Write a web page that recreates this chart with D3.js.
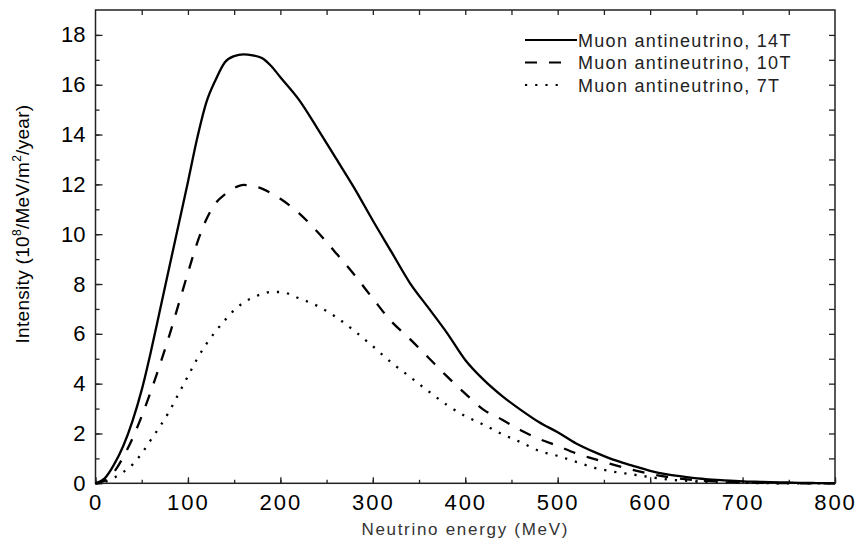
<!DOCTYPE html>
<html>
<head>
<meta charset="utf-8">
<script src="https://cdn.jsdelivr.net/npm/d3@7"></script>
<style>
  html, body { margin: 0; padding: 0; background: #fff; }
  svg { display: block; font-family: "Liberation Sans", Arial, sans-serif; }
</style>
</head>
<body>
<svg id="chart" width="858" height="542"></svg>
<script>
// ---- data ----
const energy = [0,10,20,30,40,50,60,70,80,90,100,110,120,130,140,150,160,170,180,190,200,
  220,240,260,280,300,320,340,360,380,400,420,440,460,480,500,520,540,560,580,600,
  620,640,660,680,700,720,740,760,780,800];
const intensity14T = [0,0.2,0.75,1.5,2.5,3.75,5.3,7.0,8.7,10.4,12.1,13.85,15.3,16.2,16.9,17.15,17.22,17.18,17.07,16.75,16.3,
  15.4,14.25,13.05,11.85,10.55,9.3,8.05,7.05,6.05,4.95,4.15,3.5,2.95,2.45,2.05,1.6,1.25,0.95,0.72,0.5,
  0.35,0.25,0.17,0.12,0.08,0.06,0.04,0.02,0.01,0];
const intensity10T = [0,0.1,0.45,1.05,1.8,2.7,3.7,4.8,5.95,7.2,8.45,9.65,10.6,11.25,11.6,11.85,11.98,11.93,11.83,11.65,11.42,
  10.85,10.1,9.25,8.37,7.42,6.5,5.8,5.05,4.3,3.6,2.95,2.55,2.13,1.78,1.5,1.2,0.97,0.75,0.55,0.38,
  0.25,0.16,0.1,0.06,0.04,0.02,0.01,0,0,0];
const intensity7T = [0,0.06,0.22,0.45,0.75,1.2,1.75,2.3,2.9,3.6,4.3,5.0,5.6,6.1,6.55,6.95,7.25,7.45,7.6,7.68,7.68,
  7.43,7.12,6.68,6.12,5.5,4.85,4.28,3.7,3.15,2.7,2.35,1.97,1.65,1.3,1.1,0.86,0.62,0.47,0.36,0.25,
  0.15,0.1,0.06,0.04,0.02,0.01,0,0,0,0];
const seriesNames = ["Muon antineutrino, 14T", "Muon antineutrino, 10T", "Muon antineutrino, 7T"];
const xTicks = [0,100,200,300,400,500,600,700,800];
const yTicks = [0,2,4,6,8,10,12,14,16,18];
const xTitle = "Neutrino energy (MeV)";

// ---- layout ----
const svg = d3.select("#chart");
const m = {left: 95.5, top: 10, right: 858 - 835, bottom: 542 - 483.3};
const W = 858 - m.left - m.right, H = 542 - m.top - m.bottom;
const x = d3.scaleLinear().domain([0, 800]).range([0, W]);
const y = d3.scaleLinear().domain([0, 19]).range([H, 0]);
const g = svg.append("g").attr("transform", `translate(${m.left},${m.top})`);

const axisColor = "#222";
const xMinor = d3.range(0, 801, 50);
const yMinor = d3.range(0, 19, 1);

// minor ticks
g.append("g").attr("transform", `translate(0,${H})`)
  .call(d3.axisBottom(x).tickValues(xMinor).tickSize(-3.5).tickFormat(""));
g.append("g").call(d3.axisLeft(y).tickValues(yMinor).tickSize(-4).tickFormat(""));
// top & right ticks
g.append("g").call(d3.axisTop(x).tickValues(xMinor.filter(v => v > 0 && v < 800)).tickSize(-5).tickFormat(""));
g.append("g").attr("transform", `translate(${W},0)`)
  .call(d3.axisRight(y).tickValues(yMinor.filter(v => v > 0)).tickSize(-6).tickFormat(""));

// major ticks + labels
const xAx = g.append("g").attr("transform", `translate(0,${H})`)
  .call(d3.axisBottom(x).tickValues(xTicks).tickSize(-6).tickPadding(11).tickFormat(d3.format("d")));
xAx.selectAll("text").attr("font-size", 22).attr("fill", "#000").attr("letter-spacing", "2px");
const yAx = g.append("g")
  .call(d3.axisLeft(y).tickValues(yTicks).tickSize(-7).tickPadding(10).tickFormat(d3.format("d")));
yAx.selectAll("text").attr("font-size", 22).attr("fill", "#000");

g.selectAll(".domain").remove();
g.selectAll(".tick line").attr("stroke", axisColor).attr("stroke-width", 1.3);

// frame
g.append("rect").attr("x", 0).attr("y", 0).attr("width", W).attr("height", H)
  .attr("fill", "none").attr("stroke", axisColor).attr("stroke-width", 1.5);

// ---- lines ----
const styles = [
  {data: intensity14T, dash: null},
  {data: intensity10T, dash: "12,12"},
  {data: intensity7T, dash: "2.2,8"}
];
const line = d3.line().x((d, i) => x(energy[i])).y(d => y(d)).curve(d3.curveMonotoneX);
styles.forEach(s => {
  g.append("path").datum(s.data).attr("d", line)
    .attr("fill", "none").attr("stroke", "#000").attr("stroke-width", 2.3)
    .attr("stroke-dasharray", s.dash);
});

// ---- legend ----
const legendRows = [40, 62.5, 85];
const legendX1 = 525 - m.left, legendX2 = [577, 561, 565].map(v => v - m.left);
seriesNames.forEach((name, i) => {
  const yy = legendRows[i] - m.top;
  g.append("line").attr("x1", legendX1).attr("x2", legendX2[i])
    .attr("y1", yy).attr("y2", yy)
    .attr("stroke", "#000").attr("stroke-width", 2.2)
    .attr("stroke-dasharray", styles[i].dash);
  g.append("text").attr("x", 578 - m.left).attr("y", yy + 6.5)
    .attr("font-size", 18).attr("fill", "#222").attr("letter-spacing", "1.3px")
    .text(name);
});

// ---- axis titles ----
svg.append("text").attr("x", m.left + W / 2).attr("y", 535)
  .attr("text-anchor", "middle").attr("font-size", 17).attr("fill", "#333")
  .attr("letter-spacing", "1.7px").text(xTitle);

const yt = svg.append("text").attr("transform", "translate(29,224) rotate(-90)")
  .attr("text-anchor", "middle").attr("font-size", 19).attr("fill", "#000")
  .attr("letter-spacing", "0.3px");
yt.append("tspan").text("Intensity (10");
yt.append("tspan").attr("font-size", 12).attr("dy", -8).text("8");
yt.append("tspan").attr("dy", 8).text("/MeV/m");
yt.append("tspan").attr("font-size", 12).attr("dy", -8).text("2");
yt.append("tspan").attr("dy", 8).text("/year)");
</script>
</body>
</html>
